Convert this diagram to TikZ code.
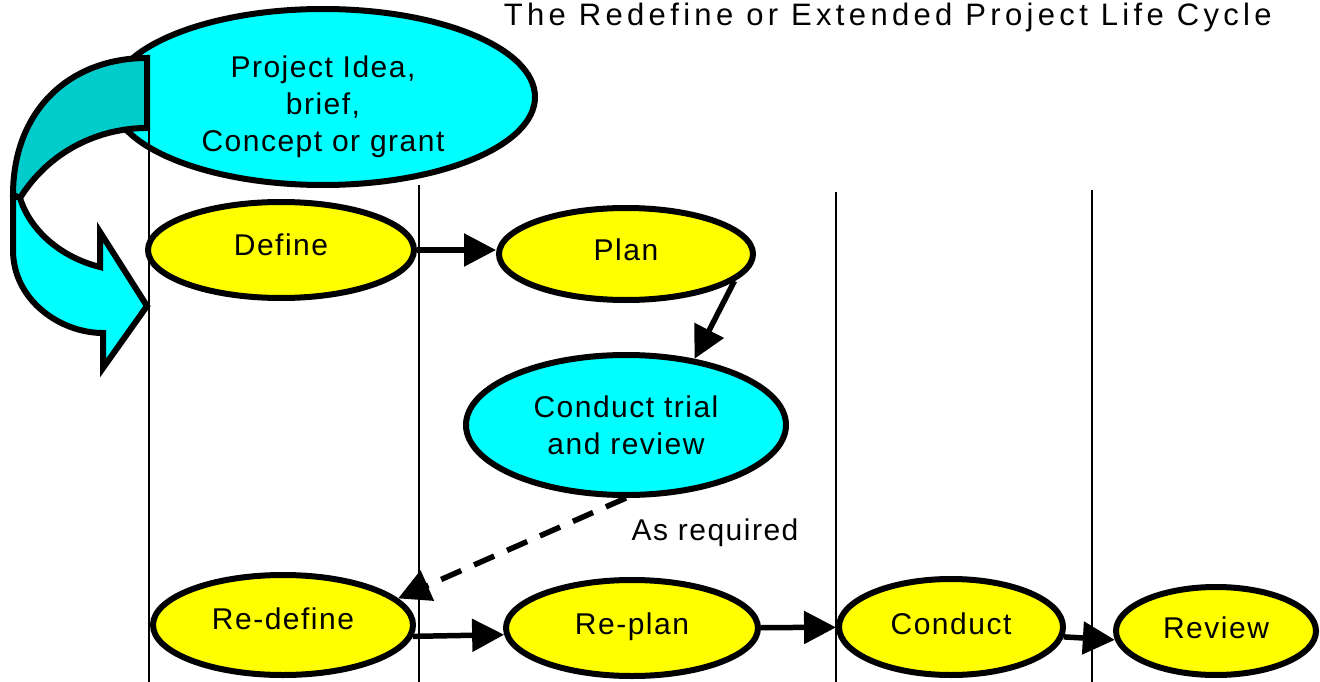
\documentclass[tikz,border=0pt]{standalone}
\usepackage{fontspec}
\setmainfont{Liberation Sans}[LetterSpace=5]
\usetikzlibrary{arrows.meta,shapes.geometric}
\definecolor{aqua}{HTML}{00FFFF}
\definecolor{aquadark}{HTML}{00CCCC}
\definecolor{lemon}{HTML}{FFFF00}
\tikzset{
  every node/.style={font=\fontsize{30}{37}\selectfont,text=black},
  stage/.style={ellipse,draw=black,line width=6pt,fill=lemon,inner sep=0pt,align=center},
  trialstage/.style={stage,fill=aqua},
  arr/.style={-{Triangle[length=32pt,width=32pt]},line width=5.5pt},
  divider/.style={line width=1.8pt},
  ribbon/.style={draw=black,line width=6pt,line join=miter}
}

\begin{document}
\begin{tikzpicture}[x=1pt,y=-1pt]
  \path[use as bounding box] (0,0) rectangle (1320,682);
  \node[anchor=base east,inner sep=0pt,font=\fontsize{31}{38}\selectfont\addfontfeature{LetterSpace=14}] (title) at (1272,26) {The Redefine or Extended Project Life Cycle};

  % project idea and the loop-back ribbon
  \node[trialstage,minimum width=424pt,minimum height=176pt,
    label={[align=center,yshift=-10pt]center:Project Idea,\\brief,\\Concept or grant}] (idea) at (323,97) {};
  \draw[divider] (149,100) -- (149,186);
  \path[ribbon,fill=aquadark] (147,58) .. controls (70,58) and (13,110) .. (13,195)
    -- (20,198) .. controls (50,150) and (100,128) .. (147,128) -- cycle;
  \path[ribbon,fill=aqua] (13,195) -- (13,250) .. controls (13,300) and (60,333) .. (103,333)
    -- (103,368) -- (147,306) -- (100,232) -- (100,267)
    .. controls (60,257) and (30,230) .. (20,198) -- cycle;

  % stages
  \node[stage,minimum width=266pt,minimum height=96pt,text depth=10pt] (define) at (281,250) {Define};
  \node[stage,minimum width=254pt,minimum height=92pt,text depth=8pt] (plan) at (626,254) {Plan};
  \node[trialstage,minimum width=320pt,minimum height=140pt] (trial) at (626,425) {Conduct trial\\and review};
  \node[stage,minimum width=260pt,minimum height=100pt,text depth=12pt] (redefine) at (283,625) {Re-define};
  \node[stage,minimum width=252pt,minimum height=96pt,text depth=8pt] (replan) at (632,628) {Re-plan};
  \node[stage,minimum width=224pt,minimum height=96pt,text depth=6pt] (conduct) at (951,627) {Conduct};
  \node[stage,minimum width=200pt,minimum height=88pt,text depth=6pt] (review) at (1216,631) {Review};
  \node (asreq) at (715,533) {As required};

  % connectors
  \draw[arr] (define.east) -- (plan.west |- define.east);
  \draw[arr] (plan.-14) -- (trial.44);
  \draw[arr,dash pattern=on 22pt off 14pt] (trial.south) -- (redefine.13);
  \draw[arr] (redefine.-5) -- (replan.183);
  \draw[arr] (replan) -- (conduct);
  \draw[arr] (conduct.-5) -- (review.185);

  % phase dividers
  \draw[divider] (149,186) -- (149,682);
  \draw[divider] (419,185) -- (419,682);
  \draw[divider] (836,192) -- (836,682);
  \draw[divider] (1092,190) -- (1092,682);
\end{tikzpicture}
\end{document}
